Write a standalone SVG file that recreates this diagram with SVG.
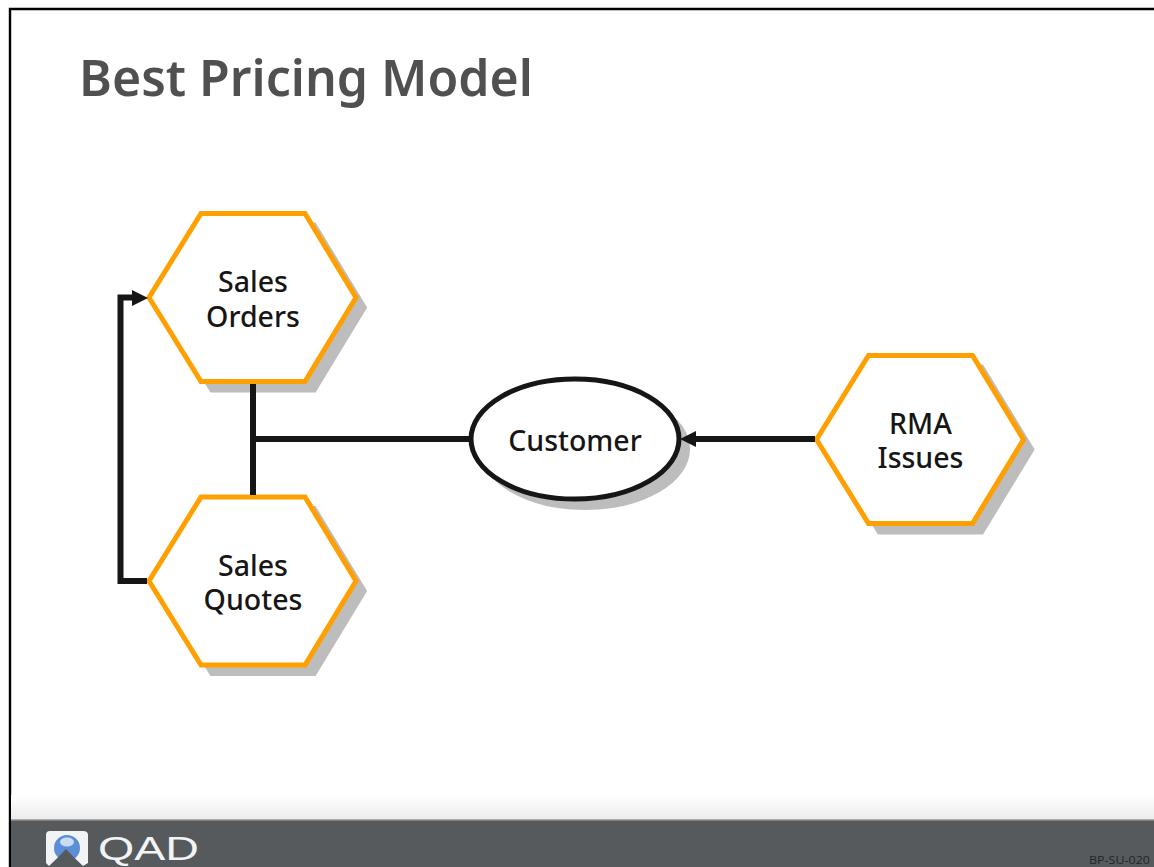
<svg xmlns="http://www.w3.org/2000/svg" width="1154" height="867" viewBox="0 0 1154 867">
<style>
.hex{fill:#fff;stroke:#ff9f00;stroke-width:5;stroke-linejoin:miter}
.shadow{fill:#bdbdbd;stroke:#bdbdbd;stroke-width:2}
.lbl{font-family:"Noto Sans","DejaVu Sans",sans-serif;font-size:28.5px;font-weight:500;fill:#161616;text-anchor:middle}
.conn{fill:none;stroke:#161616;stroke-width:6}
</style>
<defs>
<linearGradient id="fade" x1="0" y1="0" x2="0" y2="1"><stop offset="0" stop-color="#fff"/><stop offset="1" stop-color="#ececec"/></linearGradient>
<polygon id="hexshape" points="-52,-84 52,-84 103,0 52,84 -52,84 -104,0"/>
</defs>
<rect width="1154" height="867" fill="#fff"/>
<path d="M10,867V9H1154" fill="none" stroke="#000" stroke-width="2.4"/>
<g id="footer">
<rect x="11" y="795" width="1143" height="24" fill="url(#fade)"/>
<rect x="11" y="819" width="1143" height="48" fill="#565a5d"/>
<rect x="11" y="819" width="1143" height="1.5" fill="#a9abad"/>
<path d="M46,835Q46,831 50,831H83Q88,831 88,835V863L83,866L66,850L49,866L46,863Z" fill="#f2f3f5"/>
<circle cx="67" cy="848" r="13" fill="#5b8ed6"/>
<ellipse cx="67" cy="842" rx="7" ry="4.500" fill="#c9dcf4"/>
<path d="M49,867L66,849L83,867Z" fill="#565a5d"/>
<text x="98" y="860" font-family="'Liberation Sans',sans-serif" font-size="33" fill="#f2f3f5" textLength="101" lengthAdjust="spacingAndGlyphs">QAD</text>
<text x="1089" y="864" font-family="'Open Sans',sans-serif" font-size="11.500" fill="#232527" textLength="61" lengthAdjust="spacingAndGlyphs">BP-SU-020</text>
</g>
<text id="title" x="79" y="96" font-family="'Noto Sans','DejaVu Sans',sans-serif" font-size="50.500" font-weight="600" fill="#505050" textLength="454" lengthAdjust="spacingAndGlyphs">Best Pricing Model</text>
<g id="sales-orders">
<use href="#hexshape" class="shadow" x="263" y="307.500"/>
<use href="#hexshape" class="hex" x="253" y="297.500"/>
<text class="lbl" y="292"><tspan x="253">Sales</tspan><tspan x="253" dy="34.500">Orders</tspan></text>
</g>
<g id="sales-quotes">
<use href="#hexshape" class="shadow" x="263" y="591"/>
<use href="#hexshape" class="hex" x="253" y="581"/>
<text class="lbl" y="575.500"><tspan x="253">Sales</tspan><tspan x="253" dy="34.500">Quotes</tspan></text>
</g>
<g id="customer">
<ellipse cx="585" cy="449" rx="104" ry="60" class="shadow"/>
<ellipse cx="575" cy="439" rx="104" ry="60" fill="#fff" stroke="#161616" stroke-width="5"/>
<text class="lbl" x="575" y="451">Customer</text>
</g>
<g id="rma-issues">
<use href="#hexshape" class="shadow" x="930.500" y="449.500"/>
<use href="#hexshape" class="hex" x="920.500" y="439.500"/>
<text class="lbl" y="433.500"><tspan x="920.500">RMA</tspan><tspan x="920.500" dy="34.500">Issues</tspan></text>
</g>
<g id="connectors">
<path class="conn" d="M253,384V495"/>
<path class="conn" d="M253,439H469"/>
<path class="conn" d="M147,581H120.500V297.500H140"/>
<path d="M132,290L148,298L132,306Z" fill="#161616"/>
<path class="conn" d="M815,439H690"/>
<path d="M696,431L680,439L696,447Z" fill="#161616"/>
</g>
</svg>
